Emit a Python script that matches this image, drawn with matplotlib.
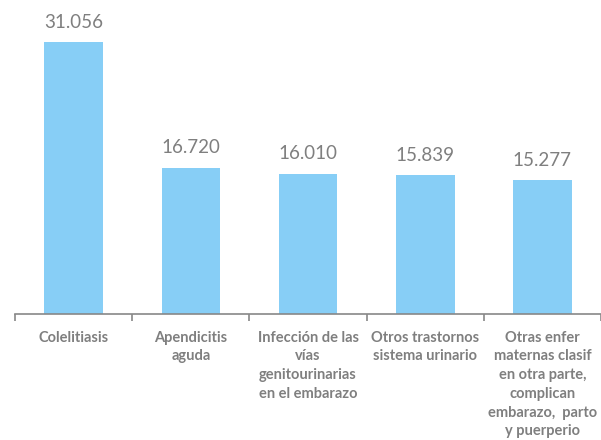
import matplotlib.pyplot as plt

categories = ['Colelitiasis', 'Apendicitis\naguda', 'Infección de las\nvías\ngenitourinarias\nen el embarazo',
              'Otros trastornos\nsistema urinario',
              'Otras enfer\nmaternas clasif\nen otra parte,\ncomplican\nembarazo,  parto\ny puerperio']
values = [31.056, 16.720, 16.010, 15.839, 15.277]
labels = ['31.056', '16.720', '16.010', '15.839', '15.277']

fig = plt.figure(figsize=(6.01, 4.40), dpi=100)
ax = fig.add_axes([0.025, 0.2864, 0.975, 0.668])

x = range(len(categories))
ax.bar(x, values, width=0.5, color='#87CEF6')
ax.set_xlim(-0.5, len(categories) - 0.5)
ax.set_ylim(0, 33.57)

for i, v in enumerate(values):
    ax.text(i, v + 1.3, labels[i], ha='center', va='bottom', fontsize=13.5,
            color='#7f7f7f', family='Lato')

for s in ['top', 'right', 'left']:
    ax.spines[s].set_visible(False)
ax.spines['bottom'].set_color('#888888')
ax.spines['bottom'].set_linewidth(1.2)
ax.set_yticks([])
ax.set_xticks([i - 0.5 for i in range(len(categories) + 1)], minor=False)
ax.set_xticklabels([])
ax.tick_params(axis='x', direction='out', length=5, color='#888888', width=1.2)

for i, c in enumerate(categories):
    ax.text(i, -1.9, c, ha='center', va='top', fontsize=10.5, fontweight='bold',
            color='#7f7f7f', family='Lato', linespacing=1.43)

fig.savefig('out.png', dpi=100)
